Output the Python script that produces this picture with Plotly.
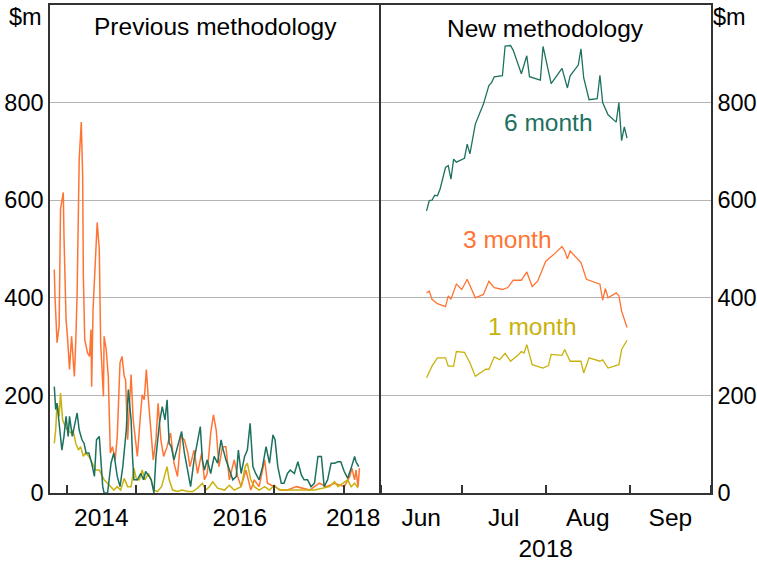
import plotly.graph_objects as go

# ---------------- Previous methodology (decimal years, $m) ----------------
prev_3m_t = [2013.82, 2013.83, 2013.86, 2013.89, 2013.91, 2013.95, 2013.96, 2013.99, 2014.01, 2014.04,
             2014.07, 2014.11, 2014.13, 2014.15, 2014.18, 2014.21, 2014.23, 2014.24, 2014.26, 2014.30,
             2014.33, 2014.35, 2014.36, 2014.38, 2014.41, 2014.44, 2014.47, 2014.49, 2014.53, 2014.54,
             2014.57, 2014.60, 2014.63, 2014.66, 2014.70, 2014.73, 2014.77, 2014.80, 2014.83, 2014.85,
             2014.88, 2014.93, 2014.96, 2015.02, 2015.06, 2015.09, 2015.12, 2015.15, 2015.18, 2015.22,
             2015.25, 2015.29, 2015.32, 2015.36, 2015.40, 2015.45, 2015.50, 2015.55, 2015.60, 2015.65,
             2015.70, 2015.75, 2015.78, 2015.84, 2015.89, 2015.95, 2015.99, 2016.03, 2016.08, 2016.12,
             2016.16, 2016.20, 2016.25, 2016.30, 2016.35, 2016.42, 2016.47, 2016.52, 2016.59, 2016.66,
             2016.71, 2016.78, 2016.86, 2016.90, 2017.00, 2017.10, 2017.19, 2017.32, 2017.51, 2017.65,
             2017.75, 2017.87, 2018.01, 2018.09, 2018.12, 2018.16, 2018.18, 2018.21, 2018.23]
prev_3m_v = [458, 403, 308, 342, 582, 616, 527, 356, 321, 253,
             321, 239, 308, 410, 684, 760, 650, 445, 314, 287,
             280, 335, 218, 376, 465, 554, 500, 308, 198, 321,
             294, 239, 82, 95, 68, 116, 267, 280, 239, 232,
             109, 243, 150, 75, 150, 201, 191, 253, 191, 129,
             68, 109, 184, 109, 75, 95, 123, 61, 34, 116,
             109, 82, 54, 88, 40, 82, 27, 40, 123, 160,
             129, 54, 95, 95, 27, 68, 34, 13, 47, 6,
             27, 13, 68, 20, 13, 6, 6, 13, 6, 20,
             13, 20, 13, 34, 51, 27, 47, 13, 51]

prev_6m_t = [2013.82, 2013.84, 2013.86, 2013.90, 2013.93, 2013.96, 2013.99, 2014.02, 2014.04, 2014.08,
             2014.12, 2014.15, 2014.18, 2014.22, 2014.25, 2014.28, 2014.32, 2014.36, 2014.40, 2014.43,
             2014.47, 2014.49, 2014.52, 2014.54, 2014.59, 2014.64, 2014.68, 2014.73, 2014.77, 2014.81,
             2014.86, 2014.89, 2014.93, 2014.95, 2014.97, 2015.02, 2015.07, 2015.11, 2015.14, 2015.19,
             2015.22, 2015.26, 2015.29, 2015.34, 2015.38, 2015.42, 2015.45, 2015.48, 2015.51, 2015.55,
             2015.60, 2015.66, 2015.70, 2015.75, 2015.79, 2015.84, 2015.89, 2015.93, 2015.96, 2015.99,
             2016.03, 2016.08, 2016.13, 2016.18, 2016.23, 2016.25, 2016.30, 2016.35, 2016.40, 2016.45,
             2016.48, 2016.52, 2016.57, 2016.61, 2016.65, 2016.69, 2016.73, 2016.78, 2016.83, 2016.88,
             2016.93, 2016.98, 2017.01, 2017.05, 2017.10, 2017.14, 2017.19, 2017.23, 2017.29, 2017.34,
             2017.39, 2017.43, 2017.48, 2017.53, 2017.58, 2017.63, 2017.68, 2017.72, 2017.77, 2017.82,
             2017.87, 2017.92, 2017.96, 2018.01, 2018.06, 2018.11, 2018.16, 2018.18, 2018.22]
prev_6m_v = [218, 171, 184, 129, 88, 116, 157, 116, 157, 116,
             143, 164, 129, 109, 102, 82, 82, 61, 34, 109,
             116, 68, 13, 0, 0, 61, 82, 34, 13, 54,
             129, 212, 150, 75, 27, 27, 40, 27, 44, 34,
             27, 0, 75, 143, 177, 150, 191, 102, 95, 68,
             95, 126, 82, 40, 13, 68, 102, 136, 68, 47,
             68, 40, 75, 61, 109, 95, 68, 47, 27, 34,
             88, 40, 75, 88, 143, 54, 40, 27, 54, 95,
             61, 119, 109, 54, 20, 20, 40, 47, 40, 64,
             37, 27, 27, 13, 20, 75, 75, 13, 27, 61,
             61, 64, 64, 44, 30, 51, 75, 64, 54]

prev_1m_t = [2013.82, 2013.84, 2013.86, 2013.89, 2013.91, 2013.94, 2013.98, 2014.01, 2014.06, 2014.09,
             2014.13, 2014.17, 2014.20, 2014.24, 2014.27, 2014.32, 2014.37, 2014.42, 2014.47, 2014.51,
             2014.54, 2014.59, 2014.64, 2014.68, 2014.73, 2014.78, 2014.83, 2014.88, 2014.93, 2014.97,
             2015.01, 2015.05, 2015.09, 2015.13, 2015.18, 2015.22, 2015.26, 2015.31, 2015.37, 2015.41,
             2015.45, 2015.48, 2015.53, 2015.60, 2015.67, 2015.75, 2015.82, 2015.89, 2015.96, 2016.01,
             2016.06, 2016.11, 2016.18, 2016.28, 2016.35, 2016.42, 2016.52, 2016.58, 2016.61, 2016.66,
             2016.71, 2016.78, 2016.86, 2016.93, 2017.00, 2017.07, 2017.17, 2017.36, 2017.58, 2017.80,
             2017.87, 2017.92, 2017.99, 2018.06, 2018.11, 2018.16, 2018.21]
prev_1m_v = [102, 129, 184, 157, 205, 150, 136, 129, 123, 129,
             102, 88, 95, 75, 82, 75, 61, 47, 47, 34,
             27, 20, 13, 6, 13, 6, 30, 13, 13, 51,
             27, 27, 47, 27, 40, 27, 6, 3, 13, 34,
             54, 27, 6, 3, 6, 3, 3, 10, 20, 6,
             13, 23, 10, 6, 16, 6, 13, 54, 61, 27,
             13, 6, 13, 6, 16, 6, 6, 6, 6, 13,
             23, 13, 20, 27, 13, 20, 10]

# ---------------- New methodology (2018, $m) ----------------
new_6m_d = ["2018-06-18", "2018-06-19", "2018-06-20", "2018-06-21", "2018-06-22", "2018-06-23",
            "2018-06-25", "2018-06-26", "2018-06-27", "2018-06-28", "2018-06-29", "2018-07-02",
            "2018-07-03", "2018-07-04", "2018-07-06", "2018-07-09", "2018-07-11", "2018-07-12",
            "2018-07-13", "2018-07-16", "2018-07-17", "2018-07-19", "2018-07-20", "2018-07-23",
            "2018-07-25", "2018-07-26", "2018-07-30", "2018-07-31", "2018-08-03", "2018-08-07",
            "2018-08-09", "2018-08-10", "2018-08-13", "2018-08-14", "2018-08-15", "2018-08-17",
            "2018-08-20", "2018-08-21", "2018-08-22", "2018-08-24", "2018-08-27", "2018-08-28",
            "2018-08-29", "2018-08-30", "2018-08-31"]
new_6m_v = [578, 599, 600, 610, 609, 623, 667, 671, 643, 684, 678, 686, 715, 695, 756, 797, 835, 841,
            853, 855, 916, 917, 907, 859, 896, 853, 846, 915, 839, 870, 830, 855, 877, 910, 851, 806,
            808, 856, 800, 775, 760, 800, 722, 750, 727]

new_3m_d = ["2018-06-18", "2018-06-19", "2018-06-20", "2018-06-22", "2018-06-25", "2018-06-26",
            "2018-06-27", "2018-06-29", "2018-07-01", "2018-07-03", "2018-07-06", "2018-07-09",
            "2018-07-11", "2018-07-13", "2018-07-16", "2018-07-18", "2018-07-20", "2018-07-23",
            "2018-07-25", "2018-07-27", "2018-07-29", "2018-08-01", "2018-08-04", "2018-08-07",
            "2018-08-08", "2018-08-09", "2018-08-10", "2018-08-14", "2018-08-16", "2018-08-21",
            "2018-08-22", "2018-08-23", "2018-08-24", "2018-08-27", "2018-08-28", "2018-08-29",
            "2018-08-31"]
new_3m_v = [410, 414, 397, 388, 382, 404, 397, 428, 417, 438, 400, 407, 434, 421, 417, 421, 436, 436,
            453, 423, 434, 475, 489, 505, 496, 480, 496, 472, 438, 428, 395, 419, 400, 410, 404, 373,
            339]

new_1m_d = ["2018-06-18", "2018-06-20", "2018-06-22", "2018-06-25", "2018-06-26", "2018-06-28",
            "2018-06-29", "2018-07-02", "2018-07-04", "2018-07-06", "2018-07-10", "2018-07-11",
            "2018-07-13", "2018-07-15", "2018-07-17", "2018-07-19", "2018-07-22", "2018-07-23",
            "2018-07-24", "2018-07-25", "2018-07-27", "2018-07-31", "2018-08-02", "2018-08-03",
            "2018-08-07", "2018-08-08", "2018-08-10", "2018-08-14", "2018-08-15", "2018-08-17",
            "2018-08-21", "2018-08-22", "2018-08-24", "2018-08-28", "2018-08-29", "2018-08-31"]
new_1m_v = [236, 260, 277, 277, 260, 260, 290, 288, 267, 239, 254, 253, 279, 273, 286, 270, 284, 290,
            287, 304, 263, 256, 261, 284, 282, 294, 270, 270, 246, 277, 270, 273, 256, 263, 294, 313]

y_ticks = [0, 200, 400, 600, 800]
year_ticks = [2014, 2015, 2016, 2017, 2018]
year_label_pos = [2014.5, 2016.5, 2018.14]
year_labels = ["2014", "2016", "2018"]

TEAL = "#1c715f"
ORANGE = "#ff7433"
GOLD = "#c9b20c"
FONT = "Liberation Sans, Arial, sans-serif"
FS = 24.5
FS_Y = 23.5
AXIS = "#333333"
GRID = "#b4b4b4"

fig = go.Figure()
fig.add_trace(go.Scatter(x=prev_3m_t, y=prev_3m_v, xaxis="x", yaxis="y", mode="lines",
                         line=dict(color=ORANGE, width=1.5)))
fig.add_trace(go.Scatter(x=prev_1m_t, y=prev_1m_v, xaxis="x", yaxis="y", mode="lines",
                         line=dict(color=GOLD, width=1.5)))
fig.add_trace(go.Scatter(x=prev_6m_t, y=prev_6m_v, xaxis="x", yaxis="y", mode="lines",
                         line=dict(color=TEAL, width=1.5)))
fig.add_trace(go.Scatter(x=new_6m_d, y=new_6m_v, xaxis="x2", yaxis="y2", mode="lines",
                         line=dict(color=TEAL, width=1.3)))
fig.add_trace(go.Scatter(x=new_3m_d, y=new_3m_v, xaxis="x2", yaxis="y2", mode="lines",
                         line=dict(color=ORANGE, width=1.3)))
fig.add_trace(go.Scatter(x=new_1m_d, y=new_1m_v, xaxis="x2", yaxis="y2", mode="lines",
                         line=dict(color=GOLD, width=1.3)))

common_axis = dict(showline=True, linecolor=AXIS, linewidth=1.5, zeroline=False, automargin=False)

fig.update_layout(
    width=757, height=562,
    margin=dict(l=50, r=46, t=5, b=69),
    plot_bgcolor="white", paper_bgcolor="white",
    showlegend=False,
    font=dict(family=FONT, size=FS, color="black"),
    xaxis=dict(domain=[0, 0.5], range=[2013.758, 2018.534], tickmode="array",
               tickvals=year_label_pos, ticktext=year_labels, ticks="", showgrid=False,
               ticklabelstandoff=2, tickfont=dict(family=FONT, size=FS, color="black"),
               mirror=True,
               minor=dict(tickmode="array", tickvals=year_ticks, ticks="inside", ticklen=8,
                          tickwidth=1.5, tickcolor=AXIS, showgrid=False),
               **common_axis),
    xaxis2=dict(domain=[0.5, 1], type="date", range=["2018-06-01", "2018-10-01"],
                dtick="M1", tick0="2018-06-01", tickformat="%b", ticklabelmode="period",
                ticks="inside", ticklen=8, tickwidth=1.5, tickcolor=AXIS, showgrid=False,
                ticklabelstandoff=2, tickfont=dict(family=FONT, size=FS, color="black"),
                mirror=True,
                title=dict(text="2018", font=dict(family=FONT, size=FS), standoff=10),
                **common_axis),
    yaxis=dict(anchor="x", range=[0, 1000], tickmode="array", tickvals=y_ticks,
               showgrid=True, gridcolor=GRID, gridwidth=1, ticks="", ticklabelstandoff=0,
               tickfont=dict(family=FONT, size=FS_Y, color="black"), mirror=False,
               **common_axis),
    yaxis2=dict(anchor="x2", side="right", range=[0, 1000], tickmode="array", tickvals=y_ticks,
                showgrid=True, gridcolor=GRID, gridwidth=1, ticks="", ticklabelstandoff=0,
                tickfont=dict(family=FONT, size=FS_Y, color="black"), mirror=True,
                **common_axis),
)

ann_font = dict(family=FONT, size=FS, color="black")
fig.add_annotation(x=0.5, xref="x domain", y=956, yref="y", text="Previous methodology",
                   showarrow=False, font=ann_font)
fig.add_annotation(x=0.5, xref="x2 domain", y=952, yref="y2", text="New methodology",
                   showarrow=False, font=ann_font)
fig.add_annotation(x=0, xref="paper", y=975, yref="y", text="$m", showarrow=False,
                   xanchor="right", xshift=-6, font=dict(family=FONT, size=FS_Y, color="black"))
fig.add_annotation(x=1, xref="paper", y=975, yref="y", text="$m", showarrow=False,
                   xanchor="left", xshift=0, font=dict(family=FONT, size=FS_Y, color="black"))
fig.add_annotation(x="2018-08-02", xref="x2", y=760, yref="y2", text="6 month", showarrow=False,
                   font=dict(family=FONT, size=FS, color=TEAL))
fig.add_annotation(x="2018-07-18", xref="x2", y=520, yref="y2", text="3 month", showarrow=False,
                   font=dict(family=FONT, size=FS, color=ORANGE))
fig.add_annotation(x="2018-07-27", xref="x2", y=341, yref="y2", text="1 month", showarrow=False,
                   font=dict(family=FONT, size=FS, color=GOLD))

fig.write_html("out.html", config={"displayModeBar": False},
               post_script="document.body.style.margin='0';document.body.style.padding='0';")
